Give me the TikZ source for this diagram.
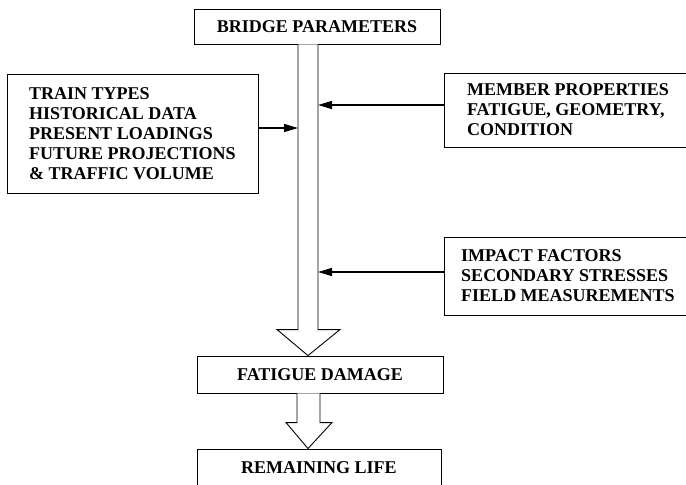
\documentclass[tikz,border=0pt]{standalone}
\usepackage{fontspec}
\setmainfont{Liberation Serif}
\usetikzlibrary{calc,arrows.meta}

\tikzset{
    box/.style={draw=black, line width=0.9pt, font=\bfseries\fontsize{18}{20}\selectfont},
    listbox/.style={box, align=left},
    feed/.style={line width=1.4pt, -{Triangle[length=14pt,width=8pt]}},
    hollow/.style={draw=black, line width=0.9pt, fill=white, line join=miter}
}

\begin{document}
\begin{tikzpicture}[x=1pt, y=-1pt]
    \useasboundingbox (0,0) rectangle (686,485);

    \node(bridge) [box, minimum width=246pt, minimum height=35pt]     at (317,26.5)  {BRIDGE PARAMETERS};
    \node(damage) [box, minimum width=246pt, minimum height=37pt]     at (320,374.5) {FATIGUE DAMAGE};
    \node(life)   [box, minimum width=244pt, minimum height=38pt]     at (319,468)   {REMAINING LIFE};
    \node(loads)  [listbox, minimum width=251pt, minimum height=119pt] at (132.5,133.5)
        {TRAIN TYPES\\ HISTORICAL DATA\\ PRESENT LOADINGS\\ FUTURE PROJECTIONS\\ \& TRAFFIC VOLUME};
    \node(member) [listbox, minimum width=248pt, minimum height=74pt]  at (568,110)
        {MEMBER PROPERTIES\\ FATIGUE, GEOMETRY,\\ CONDITION};
    \node(impact) [listbox, minimum width=248pt, minimum height=78pt]  at (568,276)
        {IMPACT FACTORS\\ SECONDARY STRESSES\\ FIELD MEASUREMENTS};

    % big hollow arrows, on the shaft line
    \coordinate (axis) at (308,0);
    \coordinate (tip1) at (axis |- damage.north);
    \coordinate (tip2) at (axis |- life.north);
    \draw [hollow] ($(axis |- bridge.south)+(-10,0)$) -- ($(tip1)+(-10,-26)$) -- ($(tip1)+(-31,-26)$)
        -- (tip1) -- ($(tip1)+(32,-26)$) -- ($(tip1)+(10,-26)$) -- ($(axis |- bridge.south)+(10,0)$);
    \draw [hollow] ($(axis |- damage.south)+(-11,0)$) -- ($(tip2)+(-11,-26)$) -- ($(tip2)+(-22,-26)$)
        -- (tip2) -- ($(tip2)+(24,-26)$) -- ($(tip2)+(12,-26)$) -- ($(axis |- damage.south)+(12,0)$);

    % inputs into the shaft
    \coordinate (s1) at (298,128);
    \coordinate (s2) at (318,105);
    \coordinate (s3) at (318,272);
    \draw [feed] (loads.east |- s1) -- (s1);
    \draw [feed] (member.west |- s2) -- (s2);
    \draw [feed] (impact.west |- s3) -- (s3);

\end{tikzpicture}
\end{document}
